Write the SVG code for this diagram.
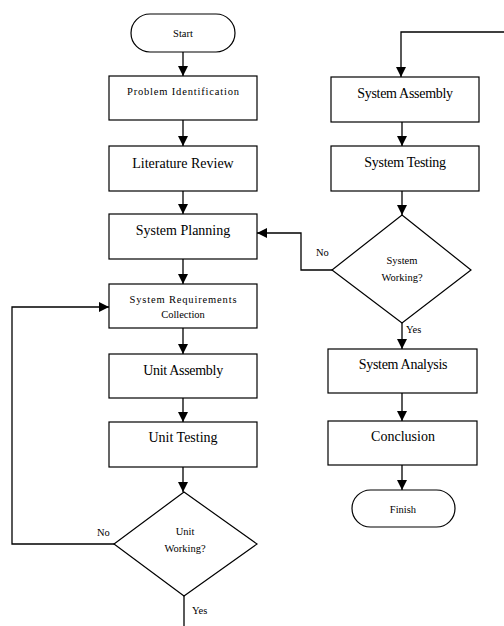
<svg xmlns="http://www.w3.org/2000/svg" width="504" height="626" viewBox="0 0 504 626">
<style>
.box{fill:#fff;stroke:#000;stroke-width:1.2}
.big{font-family:"Times New Roman","Liberation Serif","DejaVu Serif",serif;font-size:14px;fill:#000;text-anchor:middle}
.sm{font-family:"Times New Roman","Liberation Serif","DejaVu Serif",serif;font-size:10.5px;fill:#000;text-anchor:middle}
.lbl{font-family:"Times New Roman","Liberation Serif","DejaVu Serif",serif;font-size:10.5px;fill:#000}
.ln{fill:none;stroke:#000;stroke-width:1.3}
</style>
<defs>
<marker id="ah" viewBox="0 0 10 10" refX="10" refY="5" markerWidth="10" markerHeight="10" markerUnits="userSpaceOnUse" orient="auto">
<path d="M0,0 L10,5 L0,10 Z" fill="#000"/>
</marker>
</defs>
<rect width="504" height="626" fill="#fff"/>
<g id="connectors">
<path class="ln" d="M183,52 V76" marker-end="url(#ah)"/>
<path class="ln" d="M183,120 V146" marker-end="url(#ah)"/>
<path class="ln" d="M183,191 V214" marker-end="url(#ah)"/>
<path class="ln" d="M183,259 V284" marker-end="url(#ah)"/>
<path class="ln" d="M183,328 V354" marker-end="url(#ah)"/>
<path class="ln" d="M183,398 V422" marker-end="url(#ah)"/>
<path class="ln" d="M183,467 V492" marker-end="url(#ah)"/>
<path class="ln" d="M114,544 H12 V307 H109" marker-end="url(#ah)"/>
<path class="ln" d="M184,596 V626"/>
<path class="ln" d="M504,32 H401 V77" marker-end="url(#ah)"/>
<path class="ln" d="M402,122 V146" marker-end="url(#ah)"/>
<path class="ln" d="M402,191 V215" marker-end="url(#ah)"/>
<path class="ln" d="M332,270 H301 V233 H257" marker-end="url(#ah)"/>
<path class="ln" d="M402,323 V349" marker-end="url(#ah)"/>
<path class="ln" d="M402,393 V421" marker-end="url(#ah)"/>
<path class="ln" d="M402,465 V490" marker-end="url(#ah)"/>
<text class="lbl" x="97" y="536">No</text>
<text class="lbl" x="192" y="614">Yes</text>
<text class="lbl" x="316" y="256">No</text>
<text class="lbl" x="406" y="333">Yes</text>
</g>
<g id="start"><rect class="box" x="131" y="14" width="104" height="38" rx="19"/><text class="sm" x="183" y="37">Start</text></g>
<g id="problem"><rect class="box" x="109" y="76" width="148" height="44"/><text class="sm" x="183" y="95" textLength="112" lengthAdjust="spacing">Problem Identification</text></g>
<g id="literature"><rect class="box" x="109" y="146" width="148" height="45"/><text class="big" x="183" y="168">Literature Review</text></g>
<g id="planning"><rect class="box" x="109" y="214" width="148" height="45"/><text class="big" x="183" y="235">System Planning</text></g>
<g id="requirements"><rect class="box" x="109" y="284" width="148" height="44"/><text class="sm" x="183" y="303" textLength="107" lengthAdjust="spacing">System Requirements</text><text class="sm" x="183" y="318">Collection</text></g>
<g id="unitassembly"><rect class="box" x="109" y="354" width="148" height="44"/><text class="big" x="183" y="375" letter-spacing="-0.3">Unit Assembly</text></g>
<g id="unittesting"><rect class="box" x="109" y="422" width="148" height="45"/><text class="big" x="183" y="442">Unit Testing</text></g>
<g id="unitworking"><path class="box" d="M184,492 L257,544 L184,596 L114,544 Z"/><text class="sm" x="185" y="535">Unit</text><text class="sm" x="185" y="552">Working?</text></g>
<g id="sysassembly"><rect class="box" x="331" y="77" width="148" height="45"/><text class="big" x="405" y="98" letter-spacing="-0.3">System Assembly</text></g>
<g id="systesting"><rect class="box" x="331" y="146" width="148" height="45"/><text class="big" x="405" y="167" letter-spacing="-0.3">System Testing</text></g>
<g id="sysworking"><path class="box" d="M402,215 L471,270 L402,323 L332,270 Z"/><text class="sm" x="402" y="264">System</text><text class="sm" x="402" y="281">Working?</text></g>
<g id="analysis"><rect class="box" x="328" y="349" width="149" height="44"/><text class="big" x="403" y="369" letter-spacing="-0.3">System Analysis</text></g>
<g id="conclusion"><rect class="box" x="328" y="421" width="149" height="44"/><text class="big" x="403" y="441">Conclusion</text></g>
<g id="finish"><rect class="box" x="352" y="490" width="103" height="37" rx="18.5"/><text class="sm" x="403" y="513">Finish</text></g>
</svg>
